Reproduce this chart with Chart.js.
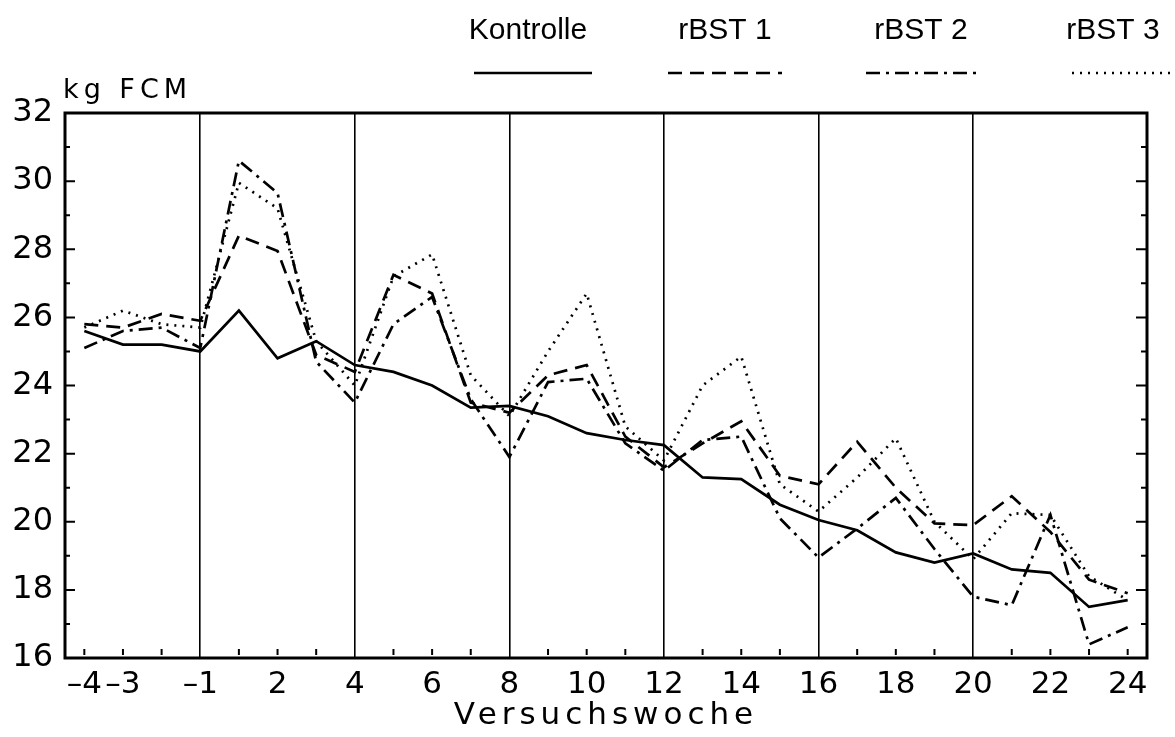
<!DOCTYPE html>
<html>
<head>
<meta charset="utf-8">
<script src="https://cdn.jsdelivr.net/npm/chart.js"></script>
<style>body{margin:0;background:#fff}</style>
</head>
<body>
<canvas id="chart" width="1175" height="737"></canvas>
<script>
// Versuchswoche (no week 0)
const weeks = ['-4','-3','-2','-1','1','2','3','4','5','6','7','8','9','10','11','12','13','14','15','16','17','18','19','20','21','22','23','24'];
const shownLabels = ['-4','-3','-1','2','4','6','8','10','12','14','16','18','20','22','24'];
const periodLines = ['-1','4','8','12','16','20'];

// kg FCM
const kontrolle = [25.6, 25.2, 25.2, 25.0, 26.2, 24.8, 25.3, 24.6, 24.4, 24.0, 23.35, 23.4, 23.1, 22.6, 22.4, 22.25, 21.3, 21.25, 20.5, 20.05, 19.75, 19.1, 18.8, 19.07, 18.6, 18.5, 17.5, 17.7];
const rbst1 = [25.8, 25.7, 26.1, 25.9, 28.4, 27.95, 24.9, 24.4, 27.25, 26.7, 23.5, 23.2, 24.3, 24.6, 22.5, 21.6, 22.3, 22.95, 21.35, 21.1, 22.35, 21.0, 19.95, 19.9, 20.75, 19.7, 18.3, 17.9];
const rbst2 = [25.1, 25.6, 25.7, 25.1, 30.6, 29.65, 24.7, 23.5, 25.8, 26.6, 23.6, 21.9, 24.1, 24.2, 22.3, 21.5, 22.4, 22.5, 20.1, 18.95, 19.8, 20.7, 19.2, 17.8, 17.55, 20.2, 16.4, 16.9];
const rbst3 = [25.7, 26.2, 25.8, 25.7, 29.95, 29.2, 25.3, 24.0, 27.2, 27.85, 24.3, 23.1, 25.0, 26.7, 22.8, 21.8, 24.0, 24.85, 21.1, 20.3, 21.3, 22.45, 20.0, 18.9, 20.25, 20.2, 18.4, 17.7];

const yMin = 16;
const yMax = 32;

// legend above the plot: label on top, line sample below
const legendSpots = [
    { cx: 528, x1: 474, x2: 592 },
    { cx: 725, x1: 668, x2: 782 },
    { cx: 921, x1: 866, x2: 978 },
    { cx: 1113, x1: 1072, x2: 1175 },
];

const extras = {
    id: "extras",
    beforeDraw(chart) {
        // wide letter spacing for the x title only
        let sx = chart.scales.x;
        if (!sx._spaced) {
            let orig = sx.drawTitle;
            sx.drawTitle = function() {
                let c = this.ctx;
                c.save();
                c.letterSpacing = "5px";
                orig.call(this);
                c.restore();
            };
            sx._spaced = true;
        }
    },
    afterDatasetsDraw(chart) {
        let ctx = chart.ctx;
        let a = chart.chartArea;
        let sx = chart.scales.x;
        let sy = chart.scales.y;
        ctx.save();
        ctx.strokeStyle = "#000";
        ctx.lineWidth = 3;
        ctx.strokeRect(a.left, a.top, a.right - a.left, a.bottom - a.top);

        // small inner ticks
        ctx.lineWidth = 2;
        ctx.beginPath();
        weeks.forEach((w, i) => {
            if (periodLines.includes(w)) return;
            let px = sx.getPixelForValue(i);
            ctx.moveTo(px, a.bottom - 3);
            ctx.lineTo(px, a.bottom - 9);
        });
        for (let v = yMin + 1; v < yMax; v++) {
            let py = sy.getPixelForValue(v);
            let len = v % 2 === 0 ? 10 : 5;
            ctx.moveTo(a.left, py);
            ctx.lineTo(a.left + len, py);
            ctx.moveTo(a.right, py);
            ctx.lineTo(a.right - len - 1, py);
        }
        ctx.stroke();

        // y unit
        ctx.fillStyle = "#000";
        ctx.font = "27px 'DejaVu Sans'";
        ctx.letterSpacing = "5px";
        ctx.textAlign = "left";
        ctx.textBaseline = "alphabetic";
        ctx.fillText("kg FCM", 63, 98);
        ctx.letterSpacing = "0px";

        // legend
        chart.data.datasets.forEach((ds, i) => {
            let s = legendSpots[i];
            ctx.font = "30px 'Liberation Sans'";
            ctx.textAlign = "center";
            ctx.textBaseline = "middle";
            ctx.fillText(ds.label, s.cx, 31);
            ctx.beginPath();
            ctx.setLineDash(ds.borderDash || []);
            ctx.lineWidth = 2.5;
            ctx.lineCap = ds.borderCapStyle || "butt";
            ctx.moveTo(s.x1, 73);
            ctx.lineTo(s.x2, 73);
            ctx.stroke();
        });
        ctx.restore();
    },
};

function lineSet(label, data, dash, cap) {
    return {
        label: label,
        data: data,
        borderColor: "#000",
        borderWidth: 2.7,
        borderDash: dash,
        borderCapStyle: cap || "butt",
        pointRadius: 0,
        tension: 0,
        fill: false,
    };
}

let ctx = document.getElementById("chart");
let myChart = new Chart(ctx, {
    type: "line",
    data: {
        labels: weeks,
        datasets: [
            lineSet("Kontrolle", kontrolle, []),
            lineSet("rBST 1", rbst1, [14, 8]),
            lineSet("rBST 2", rbst2, [14, 6, 3, 6]),
            lineSet("rBST 3", rbst3, [2, 6]),
        ],
    },
    options: {
        responsive: false,
        animation: false,
        layout: {
            padding: { top: 113, right: 28, left: 0, bottom: 0 },
        },
        plugins: {
            legend: { display: false },
            tooltip: { enabled: false },
        },
        scales: {
            x: {
                offset: true,
                border: { display: false },
                grid: {
                    drawTicks: false,
                    color: (c) => periodLines.includes(weeks[c.index]) ? "#000" : "rgba(0,0,0,0)",
                    lineWidth: 1.6,
                },
                ticks: {
                    autoSkip: false,
                    maxRotation: 0,
                    color: "#000",
                    padding: 11,
                    font: { family: "DejaVu Sans", size: 31, lineHeight: 1 },
                    callback: function(val, i) {
                        return shownLabels.includes(weeks[i]) ? weeks[i].replace("-", "\u2013") : "";
                    },
                },
                title: {
                    display: true,
                    text: "Versuchswoche",
                    color: "#000",
                    font: { family: "DejaVu Sans", size: 31, lineHeight: 1 },
                    padding: { top: 2, bottom: 6 },
                },
                afterFit: (s) => { s.height = 79; },
            },
            y: {
                min: yMin,
                max: yMax,
                border: { display: false },
                grid: { display: false, drawTicks: false },
                ticks: {
                    stepSize: 2,
                    color: "#000",
                    padding: 12,
                    font: { family: "DejaVu Sans", size: 32 },
                },
                afterFit: (s) => { s.width = 65; },
            },
        },
    },
    plugins: [extras],
});
</script>
</body>
</html>
